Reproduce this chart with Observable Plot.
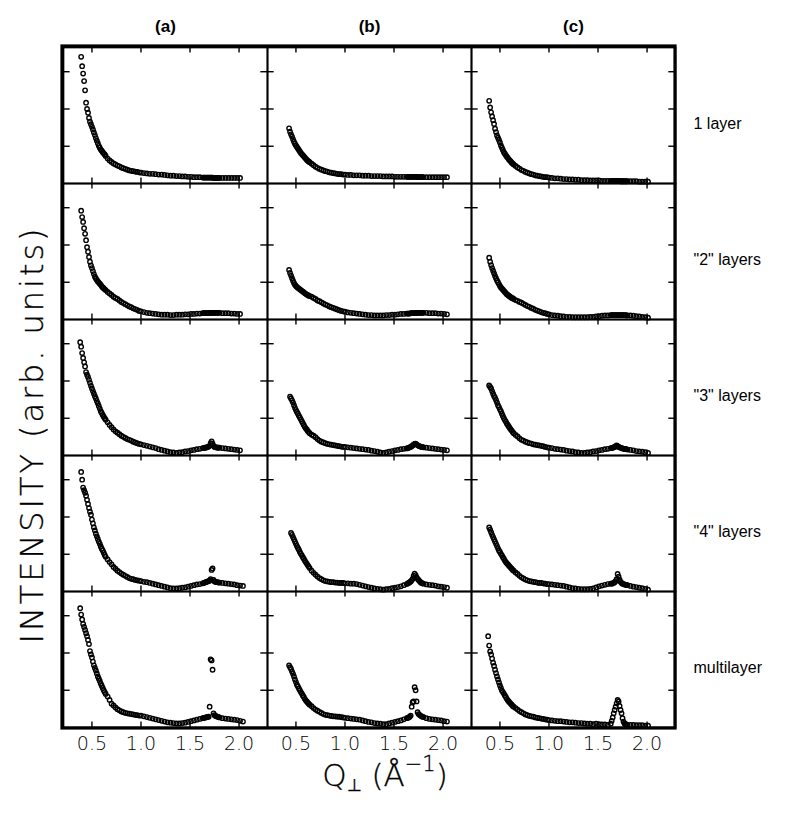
<!DOCTYPE html>
<html><head><meta charset="utf-8">
<script src="https://cdn.jsdelivr.net/npm/d3@7"></script>
<script src="https://cdn.jsdelivr.net/npm/@observablehq/plot@0.6"></script>
<style>body{margin:0;background:#fff}</style>
</head><body><div id="chart"></div>
<script>
const columns = ["(a)", "(b)", "(c)"];
const rows = ["1 layer", "\"2\" layers", "\"3\" layers", "\"4\" layers", "multilayer"];
const xTicks = [0.5, 1.0, 1.5, 2.0];
const xTickLabels = ["0.5", "1.0", "1.5", "2.0"];
const yTicks = [1, 2, 3];

// Q grid (Å^-1) of the measured points
const q = [
  0.38,0.39,0.40,0.41,0.42,0.43,0.44,0.45,0.46,0.47,0.48,0.49,0.50,0.51,0.52,0.53,0.54,0.55,0.56,0.57,0.58,0.59,0.60,0.61,0.62,0.63,0.64,
  0.66,0.68,0.70,0.72,0.74,0.76,0.78,0.80,0.82,0.84,0.86,0.88,0.90,0.92,0.94,0.96,0.98,1.00,
  1.03,1.06,1.09,1.12,1.15,1.18,1.21,1.24,1.27,1.30,1.33,1.36,1.39,1.42,1.45,1.48,1.51,1.54,1.57,1.60,1.63,
  1.64,1.65,1.66,1.67,1.68,1.69,1.70,1.71,1.72,1.73,1.74,1.75,1.76,1.77,1.78,1.79,1.80,
  1.83,1.86,1.89,1.92,1.95,1.98,2.01,2.04
];

// intensities, row "1 layer"
const layer1_a = [
  null,3.40,3.15,2.95,2.75,2.50,2.17,2.00,1.90,1.76,1.66,1.59,1.52,1.45,1.37,1.30,1.22,1.15,1.08,1.01,0.96,0.91,0.88,0.84,0.81,0.78,0.74,
  0.67,0.62,0.58,0.54,0.51,0.48,0.46,0.43,0.41,0.39,0.37,0.35,0.34,0.33,0.32,0.31,0.30,0.29,
  0.28,0.27,0.26,0.26,0.25,0.24,0.24,0.23,0.22,0.21,0.21,0.20,0.20,0.19,0.19,0.18,0.18,0.17,0.17,0.17,0.16,
  0.16,0.16,0.16,0.16,0.16,0.16,0.16,0.16,0.16,0.16,0.15,0.15,0.15,0.15,0.15,0.15,0.15,
  0.15,0.15,0.15,0.15,0.15,0.15,0.15,null
];
const layer1_b = [
  null,null,null,null,null,1.48,1.39,1.32,1.26,1.19,1.12,1.07,1.02,0.98,0.94,0.90,0.86,0.82,0.79,0.76,0.73,0.70,0.67,0.64,0.61,0.59,0.57,
  0.53,0.49,0.45,0.42,0.39,0.37,0.35,0.33,0.32,0.30,0.29,0.28,0.27,0.26,0.25,0.25,0.24,0.24,
  0.23,0.23,0.22,0.22,0.22,0.21,0.21,0.21,0.20,0.20,0.20,0.20,0.19,0.19,0.19,0.19,0.18,0.18,0.18,0.18,0.18,
  0.18,0.18,0.18,0.18,0.18,0.18,0.18,0.18,0.18,0.18,0.17,0.17,0.17,0.17,0.17,0.17,0.17,
  0.17,0.17,0.17,0.17,0.17,0.17,0.17,0.17
];
const layer1_c = [
  null,2.22,2.04,1.91,1.80,1.70,1.60,1.47,1.38,1.29,1.23,1.17,1.10,1.02,0.96,0.90,0.84,0.80,0.76,0.72,0.69,0.65,0.62,0.59,0.56,0.54,0.51,
  0.47,0.43,0.40,0.36,0.34,0.31,0.29,0.27,0.25,0.24,0.22,0.21,0.20,0.19,0.18,0.17,0.17,0.16,
  0.15,0.14,0.14,0.13,0.12,0.12,0.11,0.11,0.10,0.10,0.09,0.09,0.09,0.08,0.08,0.08,0.08,0.07,0.07,0.07,0.07,
  0.07,0.07,0.07,0.07,0.07,0.07,0.07,0.07,0.07,0.06,0.06,0.06,0.06,0.06,0.06,0.06,0.06,
  0.06,0.06,0.06,0.05,0.05,0.05,0.05,null
];
// row "2" layers
const layer2_a = [
  null,2.92,2.75,2.62,2.45,2.30,2.13,1.94,1.82,1.68,1.55,1.45,1.38,1.30,1.22,1.15,1.10,1.06,1.02,0.99,0.96,0.93,0.89,0.86,0.84,0.81,0.79,
  0.74,0.70,0.66,0.61,0.58,0.55,0.51,0.47,0.44,0.41,0.38,0.35,0.33,0.30,0.28,0.26,0.23,0.22,
  0.20,0.18,0.17,0.16,0.15,0.14,0.13,0.13,0.13,0.12,0.12,0.13,0.13,0.13,0.14,0.14,0.15,0.15,0.16,0.16,0.17,
  0.17,0.17,0.17,0.17,0.17,0.17,0.18,0.18,0.18,0.18,0.18,0.18,0.18,0.18,0.18,0.18,0.18,
  0.17,0.17,0.17,0.16,0.16,0.15,0.15,null
];
const layer2_b = [
  null,null,null,null,null,1.33,1.25,1.18,1.11,1.04,0.98,0.93,0.90,0.87,0.85,0.83,0.81,0.79,0.77,0.75,0.73,0.71,0.69,0.67,0.66,0.64,0.63,
  0.61,0.58,0.55,0.51,0.49,0.46,0.43,0.40,0.38,0.35,0.33,0.31,0.29,0.27,0.25,0.23,0.22,0.21,
  0.19,0.18,0.17,0.16,0.15,0.14,0.13,0.12,0.12,0.11,0.11,0.11,0.11,0.12,0.12,0.13,0.13,0.14,0.15,0.15,0.16,
  0.16,0.16,0.16,0.17,0.17,0.17,0.17,0.17,0.17,0.18,0.18,0.18,0.18,0.18,0.18,0.18,0.18,
  0.18,0.17,0.17,0.17,0.16,0.16,0.15,0.14
];
const layer2_c = [
  null,1.66,1.55,1.46,1.38,1.31,1.24,1.17,1.11,1.05,1.00,0.95,0.90,0.86,0.83,0.80,0.77,0.74,0.71,0.68,0.66,0.64,0.62,0.60,0.58,0.57,0.55,
  0.52,0.50,0.47,0.45,0.42,0.39,0.36,0.34,0.31,0.29,0.26,0.24,0.22,0.20,0.18,0.17,0.15,0.14,
  0.12,0.11,0.10,0.09,0.08,0.07,0.07,0.06,0.06,0.06,0.06,0.06,0.06,0.07,0.07,0.08,0.09,0.10,0.11,0.11,0.12,
  0.12,0.12,0.12,0.12,0.12,0.12,0.12,0.12,0.12,0.12,0.12,0.12,0.12,0.12,0.12,0.11,0.11,
  0.11,0.10,0.09,0.08,0.07,0.06,0.05,null
];
// row "3" layers
const layer3_a = [
  3.04,2.92,2.75,2.62,2.50,2.39,2.24,2.17,2.11,2.03,1.95,1.87,1.80,1.73,1.66,1.59,1.53,1.46,1.40,1.33,1.26,1.19,1.14,1.09,1.04,1.00,0.96,
  0.89,0.82,0.76,0.70,0.65,0.61,0.57,0.53,0.50,0.47,0.44,0.42,0.40,0.37,0.35,0.33,0.31,0.30,
  0.28,0.26,0.24,0.22,0.20,0.17,0.15,0.13,0.11,0.09,0.08,0.07,0.08,0.09,0.11,0.12,0.14,0.15,0.17,0.18,0.20,
  0.20,0.21,0.21,0.22,0.23,0.24,0.26,0.33,0.38,0.32,0.26,0.23,0.22,0.22,0.21,0.21,0.21,
  0.20,0.19,0.18,0.17,0.16,0.15,0.14,null
];
const layer3_b = [
  null,null,null,null,null,null,1.58,1.53,1.48,1.42,1.35,1.28,1.22,1.17,1.12,1.07,1.02,0.97,0.92,0.87,0.82,0.77,0.73,0.70,0.66,0.63,0.60,
  0.56,0.53,0.49,0.44,0.40,0.37,0.35,0.33,0.31,0.30,0.29,0.28,0.27,0.26,0.25,0.24,0.23,0.23,
  0.22,0.21,0.20,0.19,0.18,0.17,0.16,0.15,0.13,0.12,0.10,0.08,0.07,0.08,0.10,0.12,0.14,0.15,0.17,0.18,0.19,
  0.20,0.21,0.22,0.23,0.25,0.27,0.29,0.31,0.32,0.30,0.28,0.26,0.25,0.24,0.23,0.23,0.22,
  0.21,0.20,0.19,0.18,0.17,0.16,0.15,0.14
];
const layer3_c = [
  null,1.88,1.84,1.80,1.73,1.66,1.60,1.55,1.49,1.42,1.35,1.30,1.24,1.19,1.12,1.06,1.00,0.95,0.91,0.86,0.82,0.78,0.74,0.70,0.67,0.63,0.60,
  0.55,0.51,0.46,0.42,0.40,0.37,0.35,0.33,0.32,0.30,0.29,0.28,0.27,0.26,0.25,0.23,0.22,0.21,
  0.20,0.18,0.17,0.16,0.15,0.13,0.12,0.11,0.09,0.08,0.07,0.07,0.08,0.09,0.11,0.12,0.14,0.15,0.17,0.18,0.20,
  0.20,0.21,0.22,0.23,0.25,0.27,0.25,0.23,0.22,0.21,0.20,0.19,0.18,0.18,0.17,0.17,0.16,
  0.15,0.14,0.12,0.11,0.10,0.09,0.07,null
];
// row "4" layers
const layer4_a = [
  null,3.21,3.00,2.79,2.72,2.65,2.57,2.46,2.35,2.24,2.14,2.06,1.93,1.83,1.72,1.64,1.55,1.48,1.41,1.34,1.28,1.21,1.15,1.10,1.04,0.98,0.93,
  0.86,0.79,0.73,0.66,0.61,0.56,0.52,0.48,0.45,0.42,0.39,0.36,0.34,0.33,0.31,0.30,0.29,0.28,
  0.26,0.25,0.23,0.21,0.19,0.17,0.15,0.13,0.11,0.09,0.08,0.08,0.09,0.10,0.11,0.13,0.15,0.17,0.19,0.20,0.22,
  0.23,0.24,0.25,0.26,0.27,0.28,0.29,0.33,0.58,0.62,0.31,0.27,0.26,0.25,0.25,0.24,0.24,
  0.23,0.22,0.21,0.20,0.19,0.17,0.16,0.15
];
const layer4_b = [
  null,null,null,null,null,null,null,1.57,1.52,1.46,1.40,1.34,1.28,1.22,1.17,1.12,1.06,1.01,0.97,0.92,0.88,0.83,0.79,0.75,0.71,0.67,0.63,
  0.56,0.50,0.45,0.40,0.36,0.33,0.30,0.28,0.27,0.26,0.25,0.25,0.24,0.24,0.23,0.23,0.23,0.22,
  0.22,0.21,0.21,0.20,0.18,0.16,0.14,0.12,0.10,0.08,0.07,0.06,0.05,0.06,0.07,0.09,0.10,0.12,0.14,0.17,0.20,
  0.22,0.23,0.25,0.27,0.30,0.34,0.42,0.48,0.44,0.38,0.34,0.31,0.28,0.25,0.23,0.22,0.21,
  0.19,0.18,0.17,0.16,0.14,0.13,0.12,0.10
];
const layer4_c = [
  null,1.72,1.66,1.59,1.52,1.46,1.40,1.34,1.28,1.22,1.16,1.10,1.06,1.01,0.97,0.92,0.88,0.83,0.79,0.76,0.73,0.70,0.67,0.64,0.61,0.58,0.56,
  0.51,0.47,0.42,0.38,0.35,0.32,0.30,0.28,0.27,0.26,0.25,0.24,0.23,0.23,0.22,0.21,0.20,0.20,
  0.19,0.18,0.17,0.16,0.15,0.13,0.11,0.09,0.08,0.07,0.06,0.06,0.06,0.07,0.08,0.11,0.14,0.16,0.18,0.20,0.21,
  0.21,0.22,0.23,0.25,0.28,0.33,0.47,0.40,0.32,0.26,0.23,0.21,0.20,0.19,0.18,0.18,0.17,
  0.15,0.13,0.12,0.10,0.09,0.07,0.05,null
];
// row multilayer
const multi_a = [
  3.20,3.03,2.90,2.78,2.70,2.62,2.53,2.45,2.35,2.24,2.05,1.96,1.88,1.77,1.67,1.60,1.53,1.45,1.37,1.31,1.25,1.18,1.12,1.06,1.00,0.95,0.90,
  0.83,0.74,0.64,0.59,0.54,0.49,0.46,0.43,0.41,0.39,0.38,0.37,0.36,0.35,0.34,0.33,0.32,0.32,
  0.30,0.28,0.26,0.24,0.22,0.20,0.18,0.16,0.14,0.13,0.12,0.11,0.11,0.12,0.13,0.15,0.17,0.19,0.21,0.23,0.25,
  0.26,0.26,0.27,0.28,0.28,0.29,0.56,1.83,1.80,1.55,0.38,0.33,0.31,0.30,0.29,0.28,0.27,
  0.25,0.24,0.23,0.22,0.21,0.20,0.18,0.16
];
const multi_b = [
  null,null,null,null,null,1.67,1.62,1.57,1.50,1.44,1.37,1.29,1.22,1.15,1.10,1.05,1.00,0.95,0.91,0.86,0.82,0.77,0.73,0.70,0.67,0.64,0.61,
  0.57,0.52,0.48,0.45,0.42,0.39,0.36,0.34,0.33,0.32,0.31,0.30,0.30,0.29,0.29,0.28,0.27,0.26,
  0.25,0.24,0.23,0.22,0.21,0.19,0.17,0.15,0.14,0.12,0.11,0.10,0.09,0.09,0.11,0.13,0.15,0.17,0.19,0.22,0.25,
  0.26,0.27,0.29,0.32,0.56,0.68,0.70,1.08,1.00,0.70,0.41,0.36,0.34,0.32,0.30,0.29,0.28,
  0.25,0.23,0.22,0.21,0.20,0.19,0.17,0.16
];
const multi_c = [
  2.45,2.20,2.04,1.96,1.85,1.74,1.65,1.55,1.46,1.37,1.29,1.21,1.13,1.06,0.99,0.95,0.91,0.86,0.82,0.77,0.73,0.70,0.67,0.64,0.61,0.58,0.56,
  0.52,0.48,0.44,0.41,0.38,0.35,0.33,0.31,0.30,0.29,0.27,0.26,0.25,0.24,0.23,0.22,0.21,0.20,
  0.19,0.18,0.17,0.17,0.16,0.15,0.14,0.14,0.13,0.12,0.12,0.11,0.10,0.10,0.09,0.10,0.09,0.08,0.08,0.07,0.10,
  0.18,0.27,0.38,0.47,0.56,0.65,0.74,0.70,0.58,0.47,0.38,0.25,0.16,0.11,0.09,0.08,0.07,
  0.07,0.07,0.06,0.06,0.06,0.05,0.05,null
];

const panels = [
  [rows[0], columns[0], layer1_a], [rows[0], columns[1], layer1_b], [rows[0], columns[2], layer1_c],
  [rows[1], columns[0], layer2_a], [rows[1], columns[1], layer2_b], [rows[1], columns[2], layer2_c],
  [rows[2], columns[0], layer3_a], [rows[2], columns[1], layer3_b], [rows[2], columns[2], layer3_c],
  [rows[3], columns[0], layer4_a], [rows[3], columns[1], layer4_b], [rows[3], columns[2], layer4_c],
  [rows[4], columns[0], multi_a], [rows[4], columns[1], multi_b], [rows[4], columns[2], multi_c]
];
for (const [r, c, v] of panels) if (v.length !== q.length) throw new Error(`length ${r} ${c}: ${v.length} vs ${q.length}`);
const table = panels.flatMap(([row, col, v]) => q.map((x, i) => ({q: x, I: v[i], row, col}))).filter(d => d.I != null);

const width = 789, height = 812, ml = 62, mr = 114, mt = 46, mb = 84;
const W = (width - ml - mr) / 3, H = (height - mt - mb) / 5;

const chart = Plot.plot({
  width, height,
  marginLeft: ml, marginRight: mr, marginTop: mt, marginBottom: mb,
  style: {fontFamily: "'Liberation Sans', Arial, sans-serif", background: "white", color: "black"},
  x: {domain: [0.21, 2.29]},
  y: {domain: [0, 3.65], axis: null},
  fx: {domain: columns, padding: 0},
  fy: {domain: rows, padding: 0},
  marks: [
    Plot.tickX(xTicks, {x: d => d, insetBottom: H - 6, strokeWidth: 1.4}),
    Plot.tickX(xTicks, {x: d => d, insetTop: H - 6, strokeWidth: 1.4}),
    Plot.tickY(yTicks, {y: d => d, insetRight: W - 7, strokeWidth: 1.4}),
    Plot.tickY(yTicks, {y: d => d, insetLeft: W - 7, strokeWidth: 1.4}),
    Plot.frame({strokeWidth: 1.7}),
    Plot.dot(table, {x: "q", y: "I", fx: "col", fy: "row", r: 2.2, stroke: "black", strokeWidth: 1.4, fill: "none"}),
    Plot.axisX({ticks: xTicks, tickFormat: d => xTickLabels[xTicks.indexOf(d)], tickSize: 0, tickPadding: 9,
      fontSize: 19, fontFamily: "'DejaVu Sans', sans-serif", fontWeight: 200, label: null}),
    Plot.axisFx({anchor: "top", tickSize: 0, tickPadding: 16, fontSize: 17, fontWeight: "bold", label: null}),
    Plot.axisFy({anchor: "right", tickSize: 0, tickPadding: 18, fontSize: 16, dy: 8, label: null})
  ]
});
document.getElementById("chart").appendChild(chart);

const svg = d3.select(chart);
svg.append("rect")
  .attr("x", ml).attr("y", mt).attr("width", width - ml - mr).attr("height", height - mt - mb)
  .attr("fill", "none").attr("stroke", "black").attr("stroke-width", 3.2);

svg.append("text")
  .attr("transform", `translate(34,436) rotate(-90)`)
  .attr("text-anchor", "middle").attr("dominant-baseline", "middle")
  .attr("font-family", "'DejaVu Sans', sans-serif").attr("font-weight", 200).attr("font-size", 32)
  .attr("textLength", 415).attr("lengthAdjust", "spacing")
  .attr("fill", "black").attr("stroke", "black").attr("stroke-width", 0.3)
  .text("INTENSITY (arb. units)");

const xl = svg.append("text")
  .attr("x", 385).attr("y", 786).attr("text-anchor", "middle")
  .attr("font-family", "'DejaVu Sans', sans-serif").attr("font-weight", 200).attr("font-size", 31)
  .attr("fill", "black").attr("stroke", "black").attr("stroke-width", 0.3);
xl.append("tspan").text("Q");
xl.append("tspan").attr("font-size", 17).attr("dy", 5).text("⊥");
xl.append("tspan").attr("dy", -5).text(" (Å");
xl.append("tspan").attr("font-size", 21).attr("dy", -15).text("−1");
xl.append("tspan").attr("dy", 15).text(")");
</script>
</body></html>
